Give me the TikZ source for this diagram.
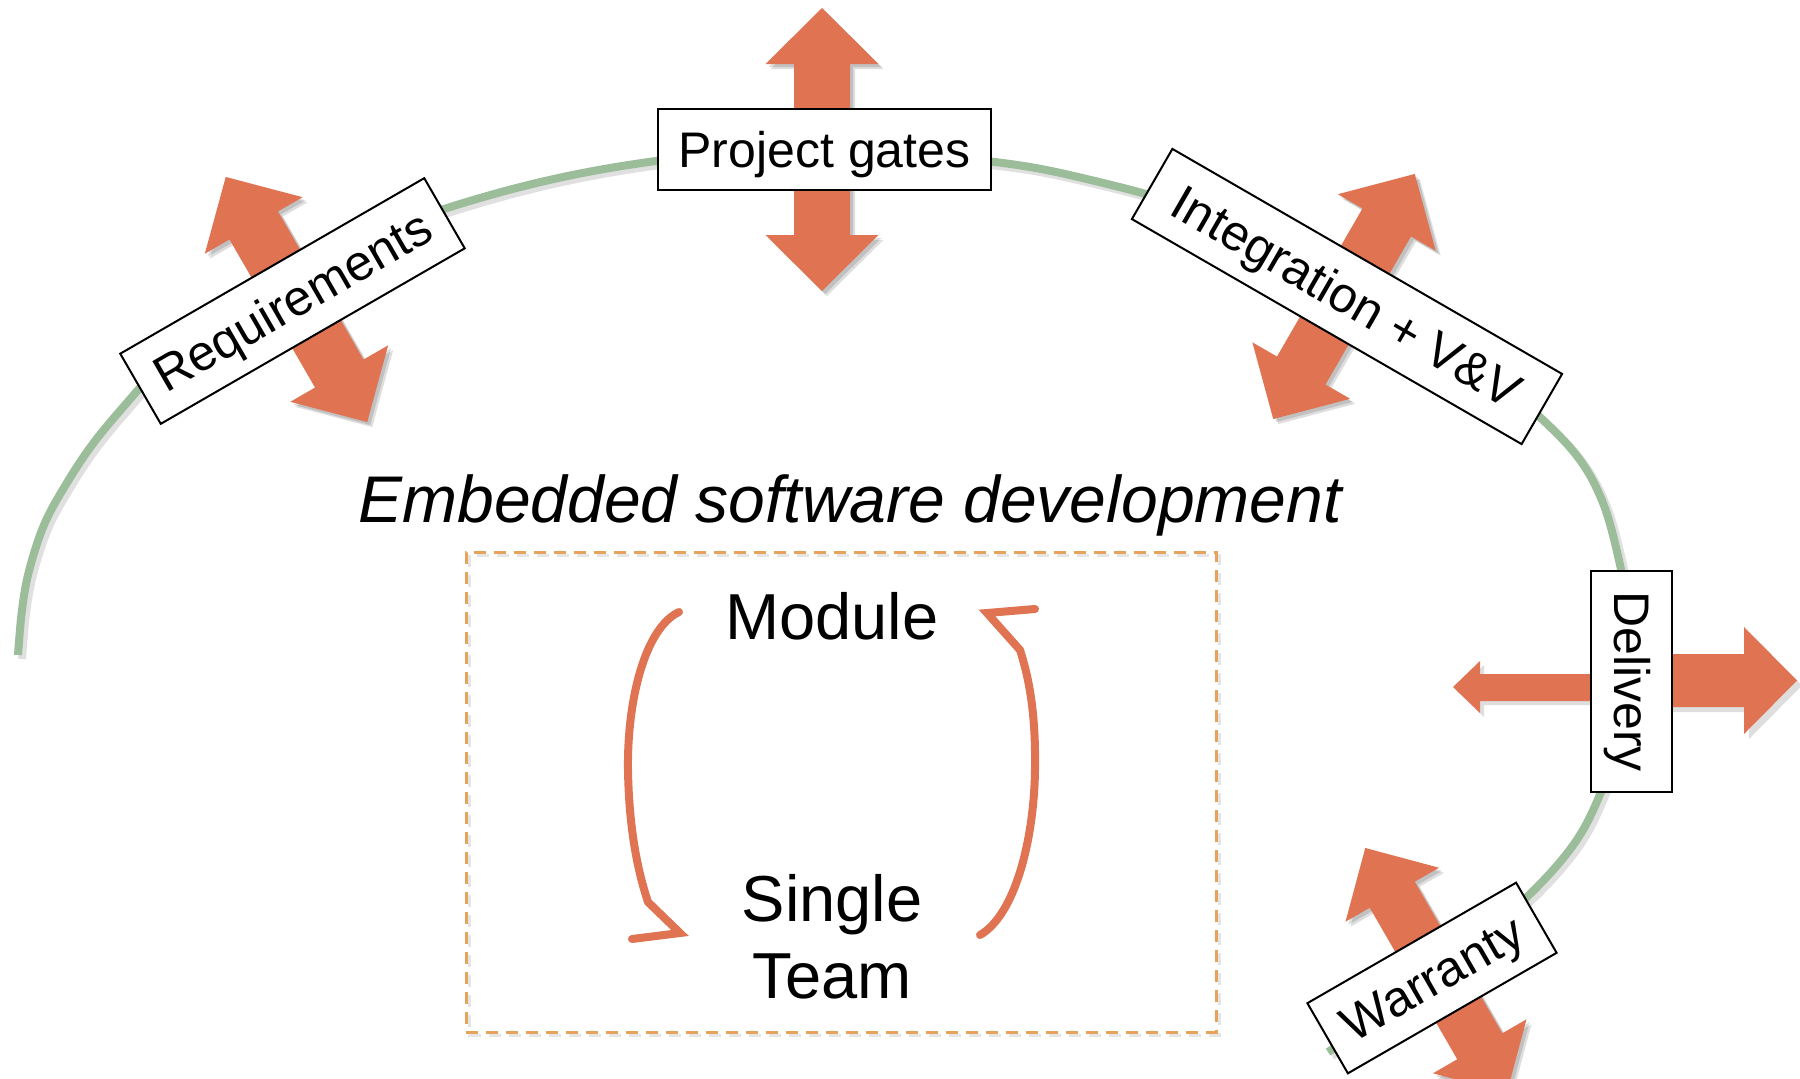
\documentclass[tikz,border=0pt]{standalone}
\usepackage{fontspec}
\setmainfont{Liberation Sans}
\definecolor{arr}{RGB}{224,116,82}
\definecolor{arcgreen}{RGB}{155,189,153}
\definecolor{dashc}{RGB}{230,163,92}
\tikzset{
  gatebox/.style={draw=black, line width=2pt, fill=white, inner sep=0pt,
    font=\fontsize{50}{60}\selectfont, minimum height=81pt, text height=41pt, text depth=6pt},
  arrowfill/.style={fill=arr},
  shadowfill/.style={fill=black, opacity=0.13},
  loopline/.style={draw=arr, line width=8pt, line cap=round, line join=miter},
  arcline/.style={draw=arcgreen, line width=8pt},
  arcshadow/.style={draw=black, opacity=0.12, line width=8pt},
  devbox/.style={draw=dashc, line width=3pt, dash pattern=on 12pt off 8pt, minimum width=750pt, minimum height=480pt, inner sep=0pt},
  bigtext/.style={font=\fontsize{65}{77}\selectfont, inner sep=0pt}
}
% double arrow: cx, cy, angle, length, shaft width, head width, head length
\newcommand{\dblarrshape}[7]{%
  (-#4/2,0) -- (-#4/2+#7,-#6/2) -- (-#4/2+#7,-#5/2) -- (#4/2-#7,-#5/2) -- (#4/2-#7,-#6/2) -- (#4/2,0)
  -- (#4/2-#7,#6/2) -- (#4/2-#7,#5/2) -- (-#4/2+#7,#5/2) -- (-#4/2+#7,#6/2) -- cycle}
\newcommand{\dblarr}[7]{%
  \fill[shadowfill, shift={(#1+5,#2+5)}, rotate=#3] \dblarrshape{#1}{#2}{#3}{#4}{#5}{#6}{#7};
  \fill[shadowfill, shift={(#1+3,#2+3)}, rotate=#3] \dblarrshape{#1}{#2}{#3}{#4}{#5}{#6}{#7};
  \fill[arrowfill, shift={(#1,#2)}, rotate=#3] \dblarrshape{#1}{#2}{#3}{#4}{#5}{#6}{#7};}
\begin{document}
\begin{tikzpicture}[x=1pt, y=-1pt]
\useasboundingbox (0,0) rectangle (1800,1079);
\fill[white] (0,0) rectangle (1800,1079);

% green arc
\def\arcpts{(18,655) (22,610) (29,571) (44,525) (65,486) (92,445) (125,405) (160,367) (205,332) (250,300) (304,269) (360,242) (418,218) (480,198) (545,181) (610,168) (680,158) (750,152) (820,150) (890,152) (959,158) (1030,167) (1095,181) (1160,198) (1222,218) (1280,242) (1336,269) (1390,300) (1440,335) (1490,375) (1543,420) (1580,460) (1603,503) (1618,556) (1628,610) (1630,660) (1624,720) (1612,760) (1601,792) (1583,830) (1560,862) (1527,897) (1480,940) (1420,990) (1370,1025) (1328,1052)}
\begin{scope}[shift={(4,4)}]
\draw[arcshadow] plot[smooth, tension=0.6] coordinates {\arcpts};
\end{scope}
\draw[arcline] plot[smooth, tension=0.6] coordinates {\arcpts};

% orange double arrows
\dblarr{822}{149.5}{90}{283}{56}{113}{56}
\dblarr{296.5}{299.5}{120}{283}{56}{113}{56}
\dblarr{1344}{296.5}{60}{283}{56}{113}{56}
\dblarr{1436}{970.5}{120}{283}{52}{108}{54}

% delivery arrows
\fill[shadowfill] (1636,659) -- (1749,659) -- (1749,632) -- (1802,685.5) -- (1749,739) -- (1749,712) -- (1636,712) -- cycle;
\fill[arrowfill] (1631,654) -- (1744,654) -- (1744,627) -- (1797,680.5) -- (1744,734) -- (1744,707) -- (1631,707) -- cycle;
\fill[shadowfill] (1631,678) -- (1484,678) -- (1484,665) -- (1457,691) -- (1484,717) -- (1484,705) -- (1631,705) -- cycle;
\fill[arrowfill] (1631,674) -- (1480,674) -- (1480,661) -- (1453,687) -- (1480,713) -- (1480,701) -- (1631,701) -- cycle;

% gate boxes
\node[gatebox, minimum width=333pt] (gates) at (824.5,149.5) {Project gates};
\node[gatebox, minimum width=351pt, rotate=30] (req) at (292.5,301) {Requirements};
\node[gatebox, minimum width=450pt, rotate=-30] (integ) at (1347,296.5) {Integration + V\&V};
\node[gatebox, minimum width=221pt, rotate=-90] (deliv) at (1631.5,681.5) {Delivery};
\node[gatebox, minimum width=241pt, rotate=30] (warr) at (1432,978) {Warranty};

% central part
\node[font=\fontsize{66}{78}\selectfont\itshape, inner sep=0pt, anchor=base] (emb) at (850,522) {Embedded software development};
\begin{scope}[shift={(3,3)}]
\draw[draw=black, opacity=0.10, line width=3pt, dash pattern=on 12pt off 8pt] (466,552) rectangle (1216,1032);
\end{scope}
\node[devbox] (dev) at (841,792) {};
\node[bigtext, anchor=base] (module) at (832,639) {Module};
\node[bigtext, anchor=north, align=center] (team) at (832,874) {Single\\Team};

% loop arrows
\coordinate (L0) at (679,612);
\coordinate (L1) at (628,770);
\coordinate (L2) at (648,902);
\coordinate (Ltip) at (680,933);
\coordinate (Lbarb) at (632,939);
\draw[loopline] (L0) .. controls (645,628) and (627,700) .. (L1) .. controls (629,830) and (638,872) .. (L2) -- (Ltip) -- (Lbarb);
\coordinate (R0) at (980,935);
\coordinate (R1) at (1035,770);
\coordinate (R2) at (1020,650);
\coordinate (Rtip) at (987,613);
\coordinate (Rbarb) at (1035,609);
\draw[loopline] (R0) .. controls (1015,915) and (1034,840) .. (R1) .. controls (1036,710) and (1028,675) .. (R2) -- (Rtip) -- (Rbarb);
\end{tikzpicture}
\end{document}
